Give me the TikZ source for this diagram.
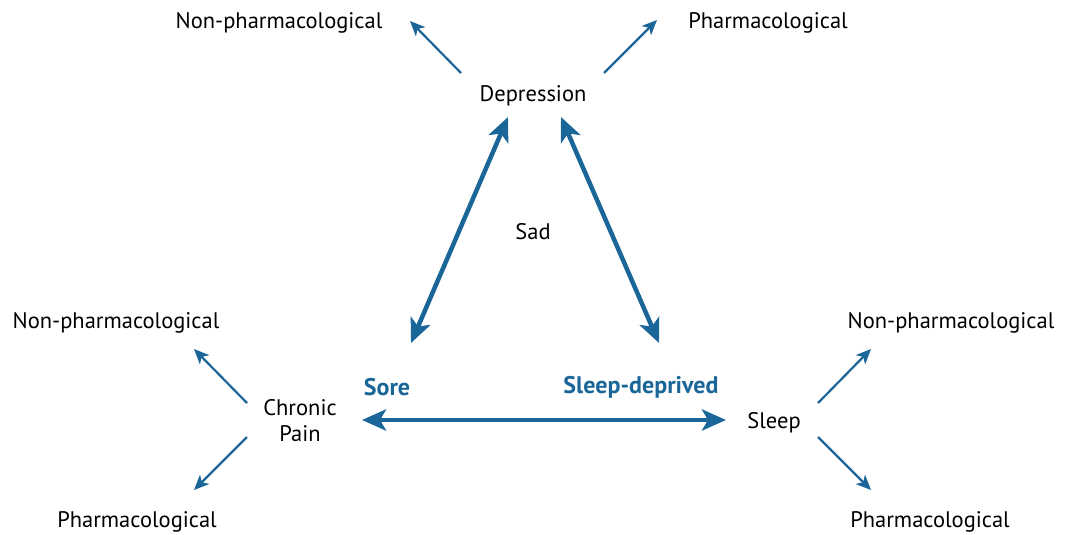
\documentclass[tikz,border=0pt]{standalone}
\usepackage{fontspec}
\setmainfont{PT Sans}
\usetikzlibrary{arrows.meta}
\definecolor{arrblue}{HTML}{1A6698}
\tikzset{
  lbl/.style={inner sep=0pt, font=\fontsize{22.5}{26}\selectfont, text=black},
  blbl/.style={inner sep=0pt, font=\fontsize{24}{27}\selectfont\bfseries, text=arrblue},
  thin/.style={draw=arrblue, line width=2.2pt, -{Stealth[length=15pt,width=13pt,inset=4pt]}},
  thick/.style={draw=arrblue, line width=4.5pt, {Stealth[length=24pt,width=21pt,inset=6pt]}-{Stealth[length=24pt,width=21pt,inset=6pt]}},
}
\begin{document}
\begin{tikzpicture}[x=1pt,y=-1pt]
\useasboundingbox (0,0) rectangle (1071,535);
% texts
\node[lbl] (tnp) at (279,23) {Non-pharmacological};
\node[lbl] (tp) at (768,23) {Pharmacological};
\node[lbl] (dep) at (533,96) {Depression};
\node[lbl] (sad) at (533,232) {Sad};
\node[lbl] (lnp) at (116,323) {Non-pharmacological};
\node[lbl, align=center] (cp) at (300,421) {Chronic\\Pain};
\node[lbl] (lp) at (137,522) {Pharmacological};
\node[blbl] (sore) at (387,387) {Sore};
\node[blbl] (sd) at (641,387) {Sleep-deprived};
\node[lbl] (sl) at (774,423) {Sleep};
\node[lbl] (rnp) at (951,323) {Non-pharmacological};
\node[lbl] (rp) at (930,522) {Pharmacological};
% arrow end points
\coordinate (d1) at (461,73); \coordinate (d1e) at (410,21);
\coordinate (d2) at (604,73); \coordinate (d2e) at (657,20);
\coordinate (c1) at (247,403); \coordinate (c1e) at (194,349);
\coordinate (c2) at (247,437); \coordinate (c2e) at (194,490);
\coordinate (s1) at (818,403); \coordinate (s1e) at (871,349);
\coordinate (s2) at (818,437); \coordinate (s2e) at (871,490);
\coordinate (ta) at (508,117); \coordinate (tb) at (411,343);
\coordinate (tc) at (561,117); \coordinate (td) at (659,343);
\coordinate (he) at (362,420); \coordinate (hf) at (726,420);
% thin arrows
\draw[thin] (d1) -- (d1e);
\draw[thin] (d2) -- (d2e);
\draw[thin] (c1) -- (c1e);
\draw[thin] (c2) -- (c2e);
\draw[thin] (s1) -- (s1e);
\draw[thin] (s2) -- (s2e);
% thick arrows
\draw[thick] (ta) -- (tb);
\draw[thick] (tc) -- (td);
\draw[thick] (he) -- (hf);
\end{tikzpicture}
\end{document}
